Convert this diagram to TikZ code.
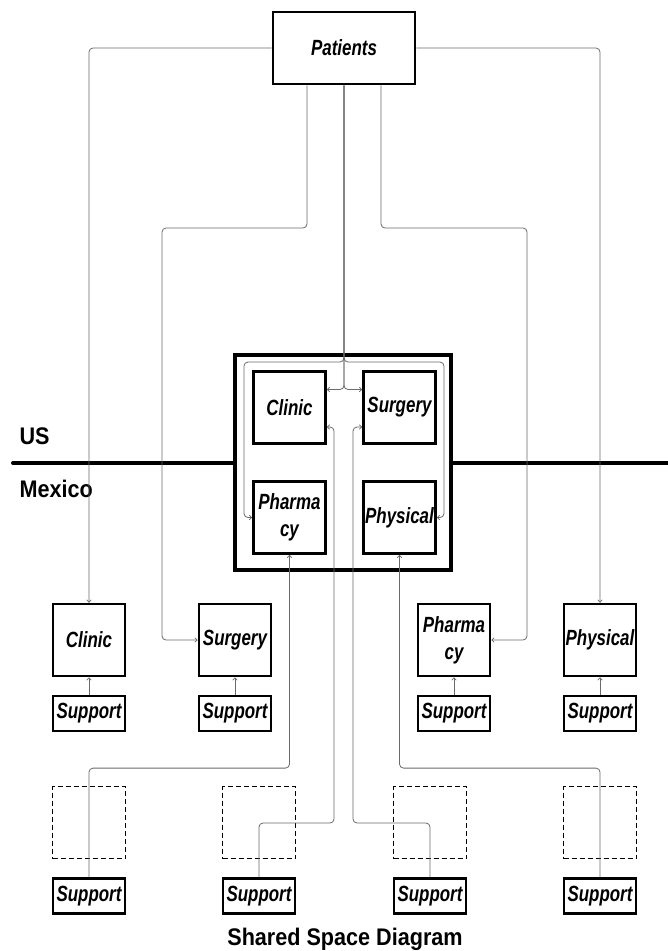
\documentclass[tikz,border=0pt]{standalone}
\usepackage{fontspec}
\setmainfont{Liberation Sans}
\newfontfamily\boxfont[FakeStretch=0.77]{Liberation Sans}
\newfontfamily\headfont[FakeStretch=0.9]{Liberation Sans}
\usepackage{tikz}
\usetikzlibrary{arrows.meta}
\definecolor{wireGray}{HTML}{6A6A6A}

\begin{document}
\begin{tikzpicture}[
    x=1pt, y=-1pt,
    unit/.style={rectangle, draw=black, line width=2.8pt, fill=white, minimum width=72pt, minimum height=72pt, inner sep=0pt, align=center, font=\boxfont\bfseries\itshape\fontsize{22}{27}\selectfont},
    supbox/.style={unit, minimum height=35pt},
    ghost/.style={rectangle, draw=black, dashed, dash pattern=on 5pt off 3pt, line width=1pt, minimum width=73pt, minimum height=72pt},
    wall/.style={rectangle, draw=black, line width=4pt, fill=white, minimum width=216pt, minimum height=215pt},
    link/.style={draw=wireGray, line width=0.8pt, rounded corners=4pt, -{To[length=3pt,width=5pt]}},
    label/.style={font=\headfont\bfseries\fontsize{24}{28}\selectfont}
]
\useasboundingbox (0,0) rectangle (668,951);

% Border
\coordinate (bw) at (13,463);
\coordinate (be) at (668,463);
\draw[line width=4pt, line cap=round] (bw) -- (be);
\node[label, anchor=base west] (us) at (16,444) {US};
\node[label, anchor=base west] (mx) at (16,497) {Mexico};

% Nodes
\node[unit, minimum width=142pt] (pat) at (344,48) {Patients};

\node[wall] (shared) at (343,462.5) {};
\node[unit] (icl) at (289.5,407.5) {Clinic};
\node[unit] (isu) at (399.5,407.5) {Surgery};
\node[unit] (ipha) at (289.5,517.5) {Pharma\\cy};
\node[unit] (iphy) at (399.5,517.5) {Physical};

\node[unit] (cl) at (89,640) {Clinic};
\node[unit] (su) at (235,640) {Surgery};
\node[unit] (pha) at (454,640) {Pharma\\cy};
\node[unit] (ph) at (600,640) {Physical};
\node[supbox] (s1) at (89,713.5) {Support};
\node[supbox] (s2) at (235,713.5) {Support};
\node[supbox] (s3) at (454,713.5) {Support};
\node[supbox] (s4) at (600,713.5) {Support};

\node[ghost] (d1) at (89,822.5) {};
\node[ghost] (d2) at (259,822.5) {};
\node[ghost] (d3) at (430,822.5) {};
\node[ghost] (d4) at (600,822.5) {};
\node[supbox] (s5) at (89,896) {Support};
\node[supbox] (s6) at (259,896) {Support};
\node[supbox] (s7) at (430,896) {Support};
\node[supbox] (s8) at (600,896) {Support};

\node[label, anchor=base] (title) at (345,945) {Shared Space Diagram};

% Bends
\coordinate (bSu) at (162,228);
\coordinate (bPha) at (527,228);
\coordinate (jL) at (244,362);
\coordinate (jR) at (444,362);
\coordinate (k6) at (334,823);
\coordinate (k7) at (353,823);

% Connections
\draw[link] (pat.west) -| (cl.north);
\draw[link] (pat.east) -| (ph.north);
\draw[link] ([xshift=-37pt]pat.south) |- (bSu) |- (su.west);
\draw[link] ([xshift=37pt]pat.south) |- (bPha) |- (pha.east);
\draw[link] (pat.south) |- (jL) |- (ipha.west);
\draw[link] (pat.south) |- (jR) |- (iphy.east);
\draw[link] (pat.south) |- ([yshift=18pt]icl.east);
\draw[link] (pat.south) |- ([yshift=18pt]isu.west);

\draw[link] (s1) -- (cl);
\draw[link] (s2) -- (su);
\draw[link] (s3) -- (pha);
\draw[link] (s4) -- (ph);

\draw[link] (s5.north) -- ++(0,-109) -| (ipha.south);
\draw[link] (s6.north) |- (k6) |- ([yshift=-19.5pt]icl.east);
\draw[link] (s7.north) |- (k7) |- ([yshift=-19.5pt]isu.west);
\draw[link] (s8.north) -- ++(0,-109) -| (iphy.south);

\end{tikzpicture}
\end{document}
